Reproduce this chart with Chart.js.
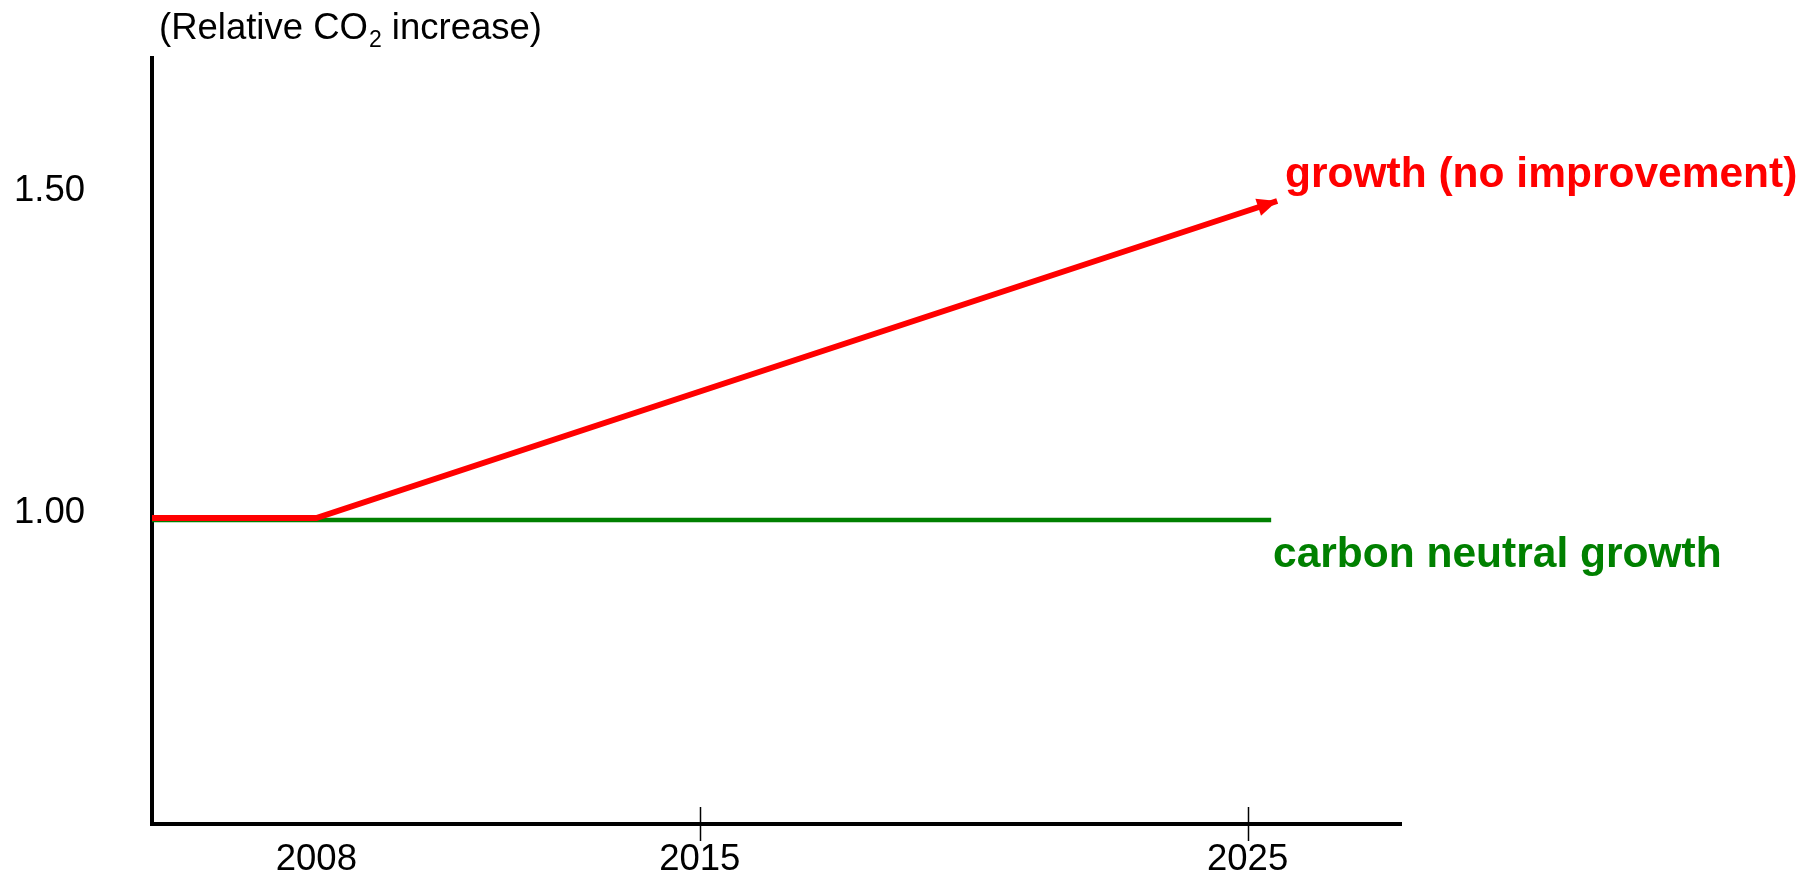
<!DOCTYPE html>
<html>
<head>
<meta charset="utf-8">
<script src="https://cdn.jsdelivr.net/npm/chart.js@4.4.0/dist/chart.umd.min.js"></script>
<style>
html,body{margin:0;padding:0;background:#fff;}
#wrap{width:1820px;height:875px;position:relative;}
</style>
</head>
<body>
<div id="wrap"><canvas id="c"></canvas></div>
<script>
// ---- data ----
const xTickYears = [2008, 2015, 2025];
const xTickMarkYears = [2015, 2025];
const yTickValues = [1.00, 1.50];

const growthX = [2005, 2008, 2025.54];
const growthY = [1.003, 1.003, 1.495];
const neutralX = [2005, 2025.43];
const neutralY = [1.00, 1.00];

const growthLabel = 'growth (no improvement)';
const neutralLabel = 'carbon neutral growth';
const titleParts = ['(Relative CO', '2', ' increase)'];

const FONT = '"Liberation Sans", Arial, sans-serif';

const toPts = (xs, ys) => xs.map((x, i) => ({x: x, y: ys[i]}));

const decorPlugin = {
  id: 'decor',
  afterDatasetsDraw(chart) {
    const ctx = chart.ctx;
    // arrowhead at the end of the growth line
    const meta = chart.getDatasetMeta(0);
    const pts = meta.data;
    const p1 = pts[pts.length - 2], p2 = pts[pts.length - 1];
    const ang = Math.atan2(p2.y - p1.y, p2.x - p1.x);
    const L = 20, W = 9;
    ctx.save();
    ctx.fillStyle = '#ff0000';
    ctx.beginPath();
    ctx.moveTo(p2.x, p2.y);
    ctx.lineTo(p2.x - L * Math.cos(ang) + W * Math.sin(ang), p2.y - L * Math.sin(ang) - W * Math.cos(ang));
    ctx.lineTo(p2.x - L * Math.cos(ang) - W * Math.sin(ang), p2.y - L * Math.sin(ang) + W * Math.cos(ang));
    ctx.closePath();
    ctx.fill();
    ctx.restore();
  },
  afterDraw(chart) {
    const ctx = chart.ctx;
    const xs = chart.scales.x;
    const bottom = chart.chartArea.bottom;
    ctx.save();
    // tick marks crossing the x axis
    ctx.strokeStyle = '#000';
    ctx.lineWidth = 1.5;
    xTickMarkYears.forEach(v => {
      const px = Math.round(xs.getPixelForValue(v)) + 0.5;
      ctx.beginPath();
      ctx.moveTo(px, bottom - 17);
      ctx.lineTo(px, bottom + 17);
      ctx.stroke();
    });
    // series labels
    ctx.textBaseline = 'alphabetic';
    ctx.textAlign = 'left';
    ctx.font = 'bold 42.5px ' + FONT;
    ctx.fillStyle = '#ff0000';
    ctx.fillText(growthLabel, 1285, 187);
    ctx.fillStyle = '#008000';
    ctx.fillText(neutralLabel, 1273, 567);
    // axis title with subscript
    ctx.fillStyle = '#000';
    let x = 159;
    const base = 39;
    ctx.font = '36.5px ' + FONT;
    ctx.fillText(titleParts[0], x, base);
    x += ctx.measureText(titleParts[0]).width;
    ctx.font = '23px ' + FONT;
    ctx.fillText(titleParts[1], x + 1, base + 8);
    x += ctx.measureText(titleParts[1]).width + 1;
    ctx.font = '36.5px ' + FONT;
    ctx.fillText(titleParts[2], x, base);
    ctx.restore();
  }
};

new Chart(document.getElementById('c'), {
  type: 'line',
  data: {
    datasets: [
      {
        label: growthLabel,
        data: toPts(growthX, growthY),
        borderColor: '#ff0000',
        borderWidth: 6,
        pointRadius: 0,
        tension: 0,
        borderCapStyle: 'butt'
      },
      {
        label: neutralLabel,
        data: toPts(neutralX, neutralY),
        borderColor: '#008000',
        borderWidth: 4.5,
        pointRadius: 0,
        tension: 0,
        borderCapStyle: 'butt'
      }
    ]
  },
  options: {
    responsive: true,
    maintainAspectRatio: false,
    animation: false,
    events: [],
    layout: {padding: {top: 58, right: 419, left: 0, bottom: 0}},
    plugins: {legend: {display: false}, tooltip: {enabled: false}, title: {display: false}},
    scales: {
      x: {
        type: 'linear',
        min: 2005,
        max: 2027.8,
        afterBuildTicks: s => { s.ticks = xTickYears.map(v => ({value: v})); },
        afterFit: s => { s.height = 51; s.paddingLeft = 0; s.paddingRight = 0; },
        grid: {display: false, drawTicks: false},
        border: {display: true, color: '#000', width: 4},
        ticks: {
          color: '#000',
          font: {family: FONT, size: 36.5},
          padding: 14,
          maxRotation: 0,
          autoSkip: false,
          callback: v => String(v)
        }
      },
      y: {
        type: 'linear',
        min: 0.528,
        max: 1.717,
        afterBuildTicks: s => { s.ticks = yTickValues.map(v => ({value: v})); },
        afterFit: s => { s.width = 152; s.paddingTop = 0; s.paddingBottom = 0; },
        grid: {display: false, drawTicks: false},
        border: {display: true, color: '#000', width: 4},
        ticks: {
          color: '#000',
          font: {family: FONT, size: 36.5},
          padding: 67,
          labelOffset: -7,
          autoSkip: false,
          callback: v => Number(v).toFixed(2)
        }
      }
    }
  },
  plugins: [decorPlugin]
});
</script>
</body>
</html>
